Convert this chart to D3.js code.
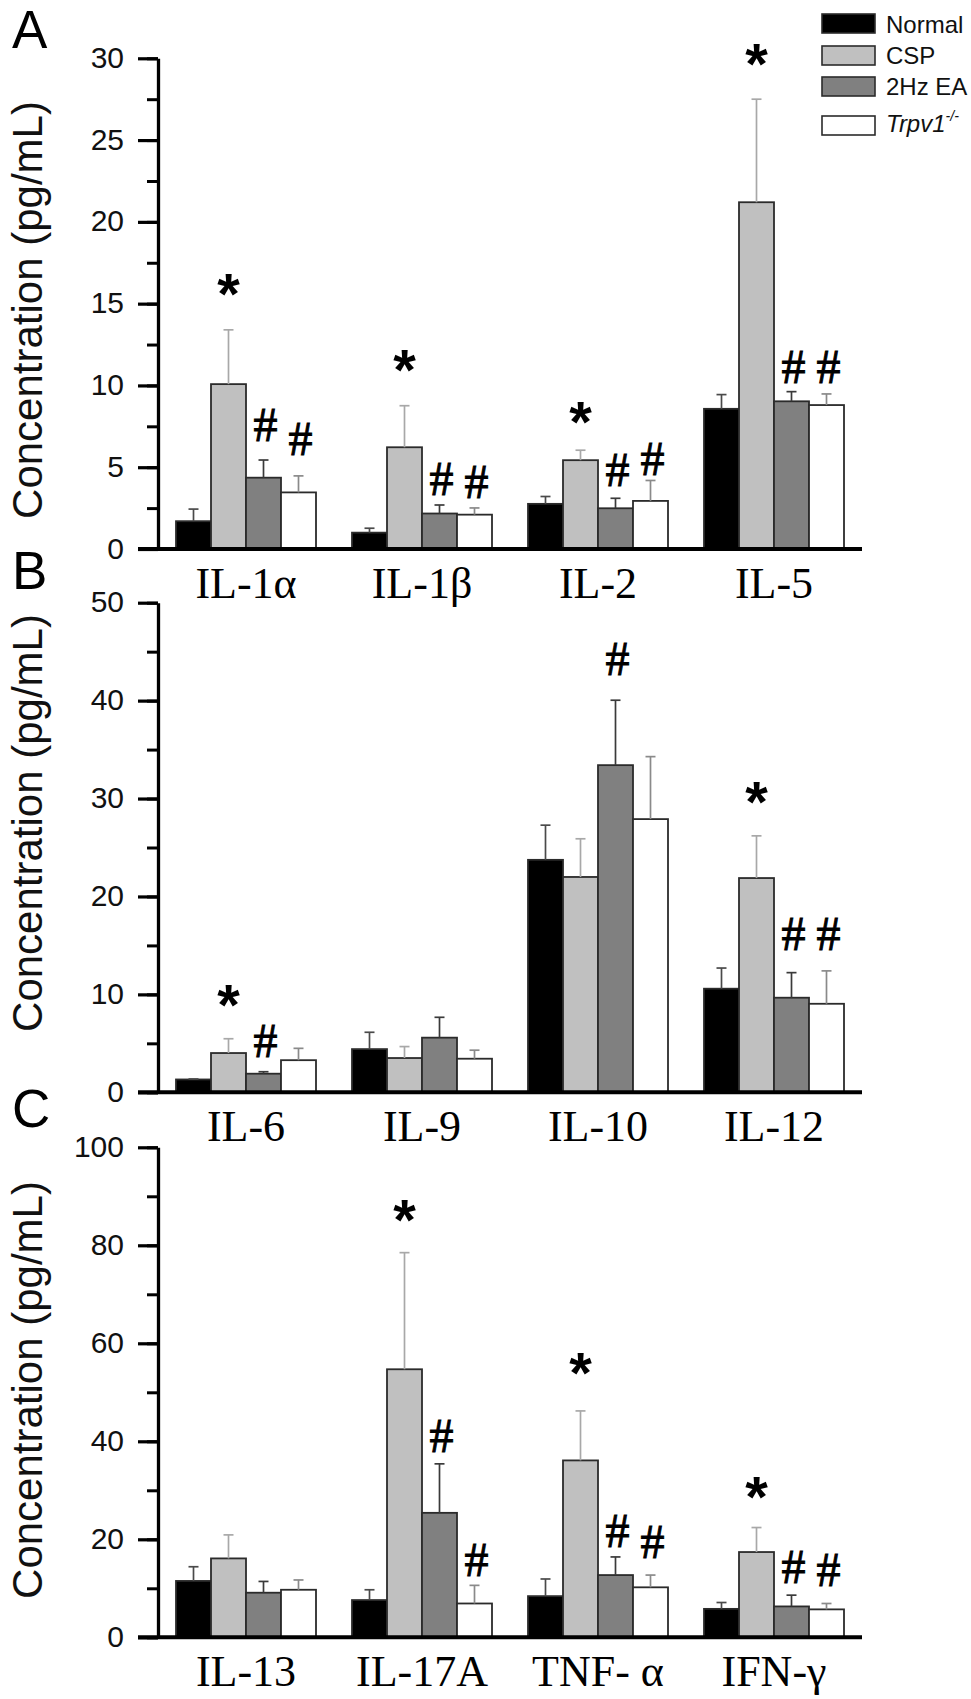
<!DOCTYPE html>
<html><head><meta charset="utf-8">
<script src="https://cdn.jsdelivr.net/npm/d3@7"></script>
<style>
html,body{margin:0;padding:0;background:#fff;}
svg{display:block;}
</style></head><body>
<svg id="chart" width="971" height="1699"></svg>
<script>
// ---------------- DATA ----------------
const seriesNames = ["Normal", "CSP", "2Hz EA", "Trpv1"];

// Panel A
const groupsA = ["IL-1α", "IL-1β", "IL-2", "IL-5"];
const meanA_Normal = [1.70, 1.00, 2.76, 8.57];
const meanA_CSP    = [10.08, 6.22, 5.43, 21.20];
const meanA_EA     = [4.36, 2.17, 2.49, 9.03];
const meanA_Trpv1  = [3.46, 2.10, 2.94, 8.80];
const seA_Normal = [0.74, 0.27, 0.45, 0.87];
const seA_CSP    = [3.32, 2.54, 0.61, 6.30];
const seA_EA     = [1.08, 0.52, 0.61, 0.59];
const seA_Trpv1  = [1.01, 0.41, 1.25, 0.68];
const marksA = [
  ["IL-1α", "CSP", "*", 16.3], ["IL-1α", "2Hz EA", "#", 7.6], ["IL-1α", "Trpv1", "#", 6.7],
  ["IL-1β", "CSP", "*", 11.7], ["IL-1β", "2Hz EA", "#", 4.25], ["IL-1β", "Trpv1", "#", 4.1],
  ["IL-2", "CSP", "*", 8.5], ["IL-2", "2Hz EA", "#", 4.8], ["IL-2", "Trpv1", "#", 5.5],
  ["IL-5", "CSP", "*", 30.4], ["IL-5", "2Hz EA", "#", 11.1], ["IL-5", "Trpv1", "#", 11.15]
];

// Panel B
const groupsB = ["IL-6", "IL-9", "IL-10", "IL-12"];
const meanB_Normal = [1.31, 4.41, 23.74, 10.58];
const meanB_CSP    = [4.01, 3.50, 21.99, 21.88];
const meanB_EA     = [1.90, 5.58, 33.41, 9.66];
const meanB_Trpv1  = [3.28, 3.43, 27.90, 9.04];
const seB_Normal = [0.05, 1.72, 3.54, 2.11];
const seB_CSP    = [1.46, 1.17, 3.90, 4.31];
const seB_EA     = [0.20, 2.08, 6.63, 2.56];
const seB_Trpv1  = [1.21, 0.87, 6.38, 3.36];
const marksB = [
  ["IL-6", "CSP", "*", 10.1], ["IL-6", "2Hz EA", "#", 5.2],
  ["IL-10", "2Hz EA", "#", 44.2],
  ["IL-12", "CSP", "*", 30.9], ["IL-12", "2Hz EA", "#", 16.2], ["IL-12", "Trpv1", "#", 16.2]
];

// Panel C
const groupsC = ["IL-13", "IL-17A", "TNF- α", "IFN-γ"];
const meanC_Normal = [11.5, 7.6, 8.4, 5.8];
const meanC_CSP    = [16.1, 54.7, 36.1, 17.4];
const meanC_EA     = [9.1, 25.4, 12.7, 6.3];
const meanC_Trpv1  = [9.7, 6.9, 10.2, 5.7];
const seC_Normal = [2.9, 2.1, 3.5, 1.3];
const seC_CSP    = [4.8, 23.8, 10.1, 5.0];
const seC_EA     = [2.3, 10.0, 3.7, 2.3];
const seC_Trpv1  = [2.0, 3.7, 2.5, 1.2];
const marksC = [
  ["IL-17A", "CSP", "*", 87.6], ["IL-17A", "2Hz EA", "#", 41.0], ["IL-17A", "Trpv1", "#", 15.8],
  ["TNF- α", "CSP", "*", 56.3], ["TNF- α", "2Hz EA", "#", 21.6], ["TNF- α", "Trpv1", "#", 19.5],
  ["IFN-γ", "CSP", "*", 31.1], ["IFN-γ", "2Hz EA", "#", 14.4], ["IFN-γ", "Trpv1", "#", 13.7]
];

const yTitle = "Concentration (pg/mL)";

// ---------------- STYLE ----------------
const SANS = "'Liberation Sans', Arial, sans-serif";
const SERIF = "'Liberation Serif', 'Times New Roman', serif";
const fillColor = d3.scaleOrdinal().domain(seriesNames).range(["#000000", "#c0c0c0", "#808080", "#ffffff"]);
const errColor = d3.scaleOrdinal().domain(seriesNames).range(["#4a4a4a", "#a8a8a8", "#3a3a3a", "#8a8a8a"]);

const svg = d3.select("#chart");
svg.append("rect").attr("width", 971).attr("height", 1699).attr("fill", "#fff");

const X_LEFT = 158, X_RIGHT = 862;

function drawPanel(p) {
  const g = svg.append("g");
  const xs = d3.scaleBand().domain(p.groups).range([X_LEFT, X_RIGHT])
    .paddingInner(36 / 176).paddingOuter(18 / 176);
  const xi = d3.scaleBand().domain(seriesNames).range([0, xs.bandwidth()]);
  const y = d3.scaleLinear().domain([0, p.max]).range([p.y0, p.y1]);

  const recs = [];
  p.groups.forEach((grp, gi) => {
    seriesNames.forEach((s, si) => {
      recs.push({ grp, s, m: p.means[si][gi], e: p.ses[si][gi] });
    });
  });

  // bars
  g.append("g").selectAll("rect").data(recs).join("rect")
    .attr("x", d => xs(d.grp) + xi(d.s))
    .attr("y", d => y(d.m))
    .attr("width", xi.bandwidth())
    .attr("height", d => y(0) - y(d.m))
    .attr("fill", d => fillColor(d.s))
    .attr("stroke", "#2b2b2b")
    .attr("stroke-width", 1.8);

  // error bars
  const eg = g.append("g").selectAll("g").data(recs).join("g")
    .attr("stroke", d => errColor(d.s)).attr("stroke-width", 1.7);
  eg.append("line")
    .attr("x1", d => xs(d.grp) + xi(d.s) + xi.bandwidth() / 2)
    .attr("x2", d => xs(d.grp) + xi(d.s) + xi.bandwidth() / 2)
    .attr("y1", d => y(d.m)).attr("y2", d => y(d.m + d.e));
  eg.append("line")
    .attr("x1", d => xs(d.grp) + xi(d.s) + xi.bandwidth() / 2 - 5)
    .attr("x2", d => xs(d.grp) + xi(d.s) + xi.bandwidth() / 2 + 5)
    .attr("y1", d => y(d.m + d.e)).attr("y2", d => y(d.m + d.e));

  // significance marks
  g.append("g").selectAll("text").data(p.marks).join("text")
    .attr("x", d => xs(d[0]) + xi(d[1]) + xi.bandwidth() / 2 + (d[2] === "#" ? 2 : 0))
    .attr("y", d => y(d[3]) + (d[2] === "*" ? 32 : 16))
    .attr("text-anchor", "middle")
    .attr("font-family", d => d[2] === "*" ? SANS : SERIF)
    .attr("font-weight", d => d[2] === "*" ? "bold" : "normal")
    .attr("font-size", d => d[2] === "*" ? 58 : 48)
    .attr("fill", "#000")
    .attr("stroke", d => d[2] === "#" ? "#000" : "none")
    .attr("stroke-width", 0.9)
    .text(d => d[2]);

  // minor ticks
  const minorAxis = d3.axisLeft(y).tickValues(d3.range(0, p.max + 1e-9, p.minor))
    .tickSize(11).tickFormat("").tickSizeOuter(0);
  const gm = g.append("g").attr("transform", `translate(${X_LEFT},0)`).call(minorAxis);
  gm.select(".domain").remove();
  gm.selectAll(".tick line").attr("stroke", "#000").attr("stroke-width", 3);

  // major ticks + labels
  const majorAxis = d3.axisLeft(y).tickValues(d3.range(0, p.max + 1e-9, p.major))
    .tickSize(20).tickPadding(14).tickSizeOuter(0);
  const ga = g.append("g").attr("transform", `translate(${X_LEFT},0)`).call(majorAxis);
  ga.select(".domain").attr("stroke", "#000").attr("stroke-width", 3.3);
  ga.selectAll(".tick line").attr("stroke", "#000").attr("stroke-width", 3.2);
  ga.selectAll(".tick text").attr("font-family", SANS).attr("font-size", 30)
    .attr("fill", "#111").attr("dy", "0.3em");

  // category axis and x axis line
  const gx = g.append("g").attr("transform", `translate(0,${y(0)})`)
    .call(d3.axisBottom(xs).tickSize(0).tickSizeOuter(0));
  gx.select(".domain").remove();
  gx.selectAll(".tick text").attr("y", 49).attr("dy", 0)
    .attr("font-family", SERIF).attr("font-size", 44).attr("fill", "#000");
  g.append("line").attr("x1", X_LEFT - 20).attr("x2", X_RIGHT)
    .attr("y1", y(0)).attr("y2", y(0)).attr("stroke", "#000").attr("stroke-width", 4);

  // y title
  g.append("text").attr("transform", `translate(42,${p.titleY}) rotate(-90)`)
    .attr("text-anchor", "middle").attr("font-family", SANS).attr("font-size", 42)
    .attr("fill", "#111").text(yTitle);

  // panel letter
  g.append("text").attr("x", 12).attr("y", p.letterY).attr("font-family", SANS)
    .attr("font-size", 53).attr("fill", "#000").text(p.letter);
}

drawPanel({
  groups: groupsA,
  means: [meanA_Normal, meanA_CSP, meanA_EA, meanA_Trpv1],
  ses: [seA_Normal, seA_CSP, seA_EA, seA_Trpv1],
  marks: marksA, max: 30, major: 5, minor: 2.5,
  y0: 549, y1: 58.3, letter: "A", letterY: 48, titleY: 310
});
drawPanel({
  groups: groupsB,
  means: [meanB_Normal, meanB_CSP, meanB_EA, meanB_Trpv1],
  ses: [seB_Normal, seB_CSP, seB_EA, seB_Trpv1],
  marks: marksB, max: 50, major: 10, minor: 5,
  y0: 1092.3, y1: 602.7, letter: "B", letterY: 589, titleY: 823
});
drawPanel({
  groups: groupsC,
  means: [meanC_Normal, meanC_CSP, meanC_EA, meanC_Trpv1],
  ses: [seC_Normal, seC_CSP, seC_EA, seC_Trpv1],
  marks: marksC, max: 100, major: 20, minor: 10,
  y0: 1637.3, y1: 1147.3, letter: "C", letterY: 1127, titleY: 1390
});

// legend
const legTop = [14, 46, 77, 116];
const legBase = [33, 64, 95, 132];
const lg = svg.append("g");
seriesNames.forEach((s, i) => {
  lg.append("rect").attr("x", 822).attr("y", legTop[i]).attr("width", 53).attr("height", 19)
    .attr("fill", fillColor(s)).attr("stroke", "#2b2b2b").attr("stroke-width", 1.6);
  const t = lg.append("text").attr("x", 886).attr("y", legBase[i])
    .attr("font-family", SANS).attr("font-size", 24).attr("fill", "#111");
  if (s === "Trpv1") {
    t.append("tspan").attr("font-style", "italic").text("Trpv1");
    t.append("tspan").attr("font-style", "italic").attr("font-size", 14).attr("dy", -11).text("-/-");
  } else {
    t.text(s);
  }
});
</script>
</body></html>
